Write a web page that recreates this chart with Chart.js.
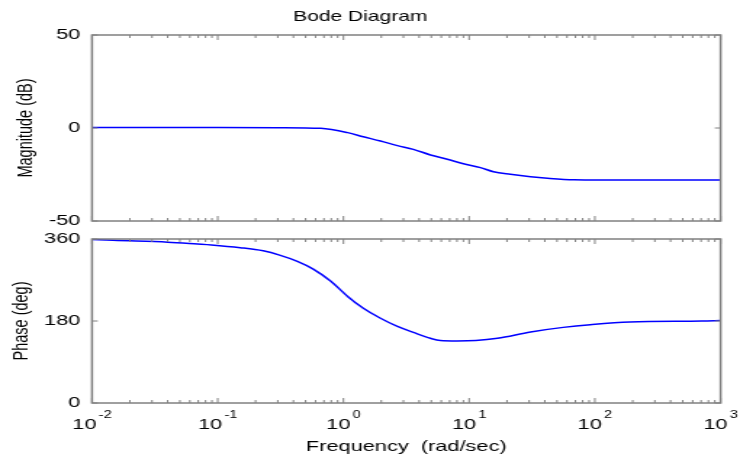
<!DOCTYPE html>
<html>
<head>
<meta charset="utf-8">
<script src="https://cdn.jsdelivr.net/npm/chart.js@4.4.1/dist/chart.umd.min.js"></script>
<style>
    html, body { margin: 0; padding: 0; background: #fff; }
    #wrap { position: relative; width: 740px; height: 461px; overflow: hidden; }
    /* the original figure is stretched sideways, so draw narrow and scale x */
    .panel { position: absolute; left: 0; width: 510px; transform-origin: 0 0; transform: scaleX(1.451); }
</style>
</head>
<body>
<div id="wrap">
    <div class="panel" style="top:0px;height:232px"><canvas id="mag-canvas" width="510" height="232"></canvas></div>
    <div class="panel" style="top:226px;height:235px"><canvas id="phase-canvas" width="510" height="235"></canvas></div>
</div>
<script>
const magFreq = [0.01, 0.1, 0.3, 0.66, 1.08, 1.44, 1.97, 2.69, 3.6, 4.93, 6.7, 9, 12.3, 15.6, 21.3, 30.8, 42, 68, 200, 1000];
const magDb = [0.3, 0.3, 0.2, -0.2, -2.5, -4.7, -7, -9.5, -11.5, -14.5, -16.8, -19.2, -21.3, -23.5, -24.9, -26.2, -27, -27.8, -28, -28];

const phaseFreq = [0.01, 0.0147, 0.04, 0.069, 0.089, 0.151, 0.23, 0.315, 0.43, 0.575, 0.79, 1.08, 1.44, 1.97, 2.69, 3.6, 4.93, 5.9, 8, 11.3, 16.8, 30.8, 56, 92, 190, 710, 1000];
const phaseDeg = [359, 357, 353, 349, 347, 341, 334, 324, 311, 294, 268, 234, 208, 186, 168, 155, 142, 137, 136, 137, 142, 156, 166, 172, 178, 180, 181];

const freqTicks = [0.01, 0.1, 1, 10, 100, 1000];
const freqExp = ['-2', '-1', '0', '1', '2', '3'];
const magTicks = [-50, 0, 50];
const phaseTicks = [0, 180, 360];

Chart.defaults.font.family = '"Liberation Sans", Arial, sans-serif';
Chart.defaults.color = '#000';

function toPoints(xs, ys) {
    return xs.map((x, i) => ({x: x, y: ys[i]}));
}

// matlab style box with inward ticks, plus 10^n labels
const frameTicks = {
    id: 'frameTicks',
    afterDatasetsDraw(chart, args, opts) {
        const {ctx, chartArea: a} = chart;
        const xs = chart.scales.x, ys = chart.scales.y;
        ctx.save();
        ctx.strokeStyle = '#808080';
        ctx.lineWidth = 1;
        ctx.beginPath();
        for (let d = 0; d < freqTicks.length; d++) {
            for (let m = 1; m < 10; m++) {
                const v = freqTicks[d] * m;
                if (v > xs.max * 1.0001) break;
                const px = xs.getPixelForValue(v);
                const len = m == 1 ? 5 : 3;
                ctx.moveTo(px, a.top); ctx.lineTo(px, a.top + len);
                ctx.moveTo(px, a.bottom); ctx.lineTo(px, a.bottom - len);
            }
        }
        opts.yTicks.forEach(v => {
            const py = ys.getPixelForValue(v);
            ctx.moveTo(a.left, py); ctx.lineTo(a.left + 4, py);
            ctx.moveTo(a.right, py); ctx.lineTo(a.right - 4, py);
        });
        ctx.stroke();
        ctx.lineWidth = 1.5;
        ctx.strokeRect(a.left, a.top, a.right - a.left, a.bottom - a.top);

        if (opts.xLabels) {
            ctx.fillStyle = '#000';
            ctx.textAlign = 'left';
            ctx.textBaseline = 'alphabetic';
            freqTicks.forEach((v, i) => {
                const px = xs.getPixelForValue(v);
                ctx.font = '15px "Liberation Sans", Arial, sans-serif';
                const w1 = ctx.measureText('10').width;
                ctx.font = '10px "Liberation Sans", Arial, sans-serif';
                const w2 = ctx.measureText(freqExp[i]).width;
                const x0 = px - (w1 + 1.5 + w2) / 2;
                ctx.font = '15px "Liberation Sans", Arial, sans-serif';
                ctx.fillText('10', x0, a.bottom + 26);
                ctx.font = '10px "Liberation Sans", Arial, sans-serif';
                ctx.fillText(freqExp[i], x0 + w1 + 1.5, a.bottom + 15);
            });
        }
        ctx.restore();
    }
};

function makeConfig(points, yMin, yMax, yTicks, yTitle, titlePad, bottomHeight, xLabels, title, topPad) {
    return {
        type: 'line',
        data: {
            datasets: [{
                data: points,
                borderColor: '#0000ff',
                borderWidth: 1.5,
                pointRadius: 0,
                fill: false,
                cubicInterpolationMode: 'monotone',
            }]
        },
        options: {
            responsive: false,
            animation: false,
            layout: { padding: { left: 0, right: 13.4, top: topPad, bottom: 0 } },
            plugins: {
                legend: { display: false },
                tooltip: { enabled: false },
                title: {
                    display: !!title,
                    text: title,
                    font: { size: 14.5, weight: 'normal' },
                    padding: { top: 8.3, bottom: 9.3 },
                    color: '#000',
                },
                frameTicks: { yTicks: yTicks, xLabels: xLabels },
            },
            scales: {
                x: {
                    type: 'logarithmic',
                    min: 0.01,
                    max: 1000,
                    grid: { display: false, drawTicks: false },
                    border: { display: false },
                    ticks: { display: false },
                    title: {
                        display: xLabels,
                        text: 'Frequency  (rad/sec)',
                        font: { size: 15 },
                        padding: { top: 0, bottom: 5 },
                    },
                    afterFit: (scale) => { scale.height = bottomHeight; },
                },
                y: {
                    min: yMin,
                    max: yMax,
                    grid: { display: false, drawTicks: false },
                    border: { display: false },
                    afterBuildTicks: (scale) => { scale.ticks = yTicks.map(v => ({value: v})); },
                    ticks: { font: { size: 15 }, padding: 8, autoSkip: false },
                    title: {
                        display: true,
                        text: yTitle,
                        font: { size: 14.5 },
                        padding: { top: titlePad, bottom: 0 },
                    },
                    afterFit: (scale) => {
                        scale.width = 63.4;
                        // labels may hang over the box, don't let them push it
                        scale.paddingTop = 0;
                        scale.paddingBottom = 0;
                    },
                },
            },
        },
        plugins: [frameTicks],
    };
}

window.onload = () => {
    new Chart(document.getElementById('mag-canvas').getContext('2d'),
        makeConfig(toPoints(magFreq, magDb), -50, 50, magTicks, 'Magnitude (dB)', 9.6, 11, false, 'Bode Diagram', 0));
    new Chart(document.getElementById('phase-canvas').getContext('2d'),
        makeConfig(toPoints(phaseFreq, phaseDeg), 0, 360, phaseTicks, 'Phase (deg)', 6.5, 58, true, '', 13));
};
</script>
</body>
</html>
